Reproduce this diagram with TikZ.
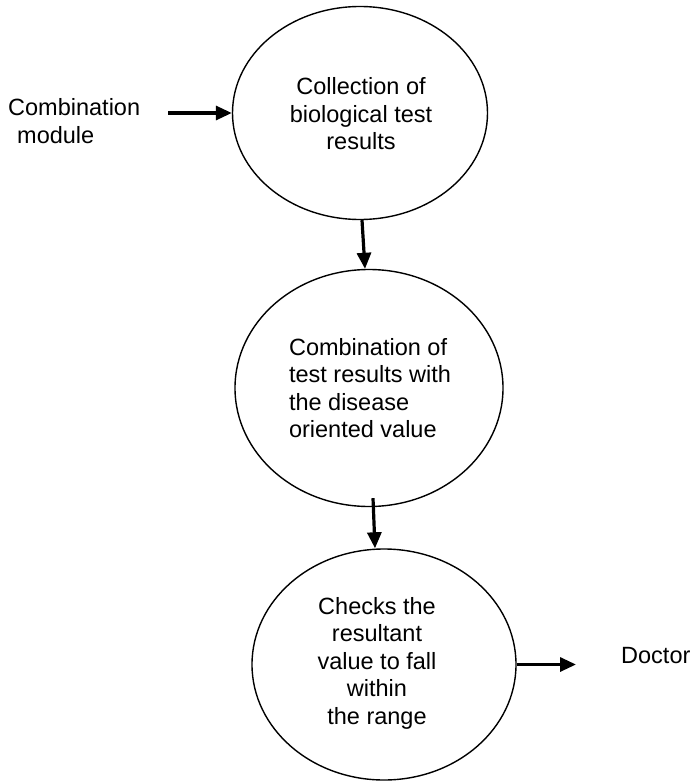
\documentclass[tikz,border=0pt]{standalone}
\usepackage{fontspec}
\setmainfont{Liberation Sans}
\usetikzlibrary{shapes.geometric,arrows.meta}

\tikzset{
  bubble/.style={draw, ellipse, line width=1.4pt, inner sep=0pt},
  label text/.style={font=\fontsize{23.5}{27.5}\selectfont, inner sep=0pt},
  flow/.style={line width=3.2pt, -{Triangle[length=16pt,width=14pt]}}
}

\begin{document}
\begin{tikzpicture}[x=1pt,y=-1pt]
  \useasboundingbox (0,0) rectangle (696,784);

  % process bubbles
  \node[bubble, minimum width=255pt, minimum height=213pt] (e1) at (360,113) {};
  \node[bubble, minimum width=268pt, minimum height=237pt] (e2) at (369,388) {};
  \node[bubble, minimum width=264pt, minimum height=231pt] (e3) at (384,664.5) {};

  % bubble texts
  \node[label text, align=center] (t1) at (361,114)
    {Collection of\\biological test\\results};
  \node[label text, align=left] (t2) at (370,388)
    {Combination of\\test results with\\the disease\\oriented value};
  \node[label text, align=center] (t3) at (377,663)
    {Checks the\\resultant\\value to fall\\within\\the range};

  % outside actors
  \node[label text, align=left, anchor=west] (cm) at (8,121)
    {Combination\\\hspace*{9pt}module};
  \node[label text, anchor=west] (doc) at (621,656) {Doctor};

  % connectors
  \draw[flow] ([xshift=28pt]cm.east |- e1.west) -- (e1.west);
  \draw[flow] ([xshift=2pt]e1.south) -- ([xshift=-4pt]e2.north);
  \draw[flow] ([xshift=4pt,yshift=9pt]e2.south) -- ([xshift=-9pt]e3.north);
  \draw[flow] (e3.east) -- ([xshift=-45pt]doc.west |- e3.east);
\end{tikzpicture}
\end{document}
